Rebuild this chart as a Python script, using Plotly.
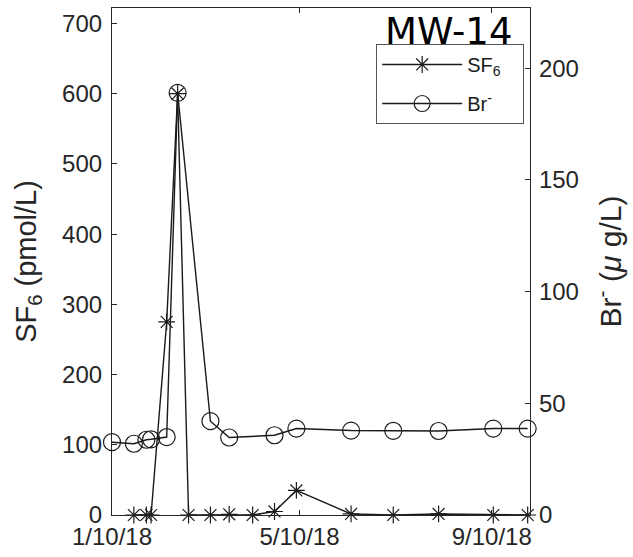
import plotly.graph_objects as go

# SF6 samples (pmol/L), left axis
sf6_dates = ["2018-01-24", "2018-02-01", "2018-02-04", "2018-02-14", "2018-02-21",
             "2018-02-28", "2018-03-14", "2018-03-26", "2018-04-10", "2018-04-24",
             "2018-05-08", "2018-06-12", "2018-07-09", "2018-08-07", "2018-09-11",
             "2018-10-03"]
sf6_values = [0, 0, 0, 275, 600, 0, 0, 1, 0, 5, 35, 1.5, 0, 1.5, 0, 0]

# Bromide samples (ug/L), right axis
br_dates = ["2018-01-10", "2018-01-24", "2018-02-01", "2018-02-04", "2018-02-14",
            "2018-02-21", "2018-03-14", "2018-03-26", "2018-04-24", "2018-05-08",
            "2018-06-12", "2018-07-09", "2018-08-07", "2018-09-11", "2018-10-03"]
br_values = [32.6, 31.9, 33.7, 33.9, 34.9, 189, 42, 34.7, 35.7, 38.7,
             37.8, 37.7, 37.6, 38.7, 38.7]

x_tick_vals = ["2018-01-10", "2018-05-10", "2018-09-10"]
x_tick_text = ["1/10/18", "5/10/18", "9/10/18"]
left_ticks = [0, 100, 200, 300, 400, 500, 600, 700]
right_ticks = [0, 50, 100, 150, 200]

AXIS = "#262626"
INK = "#1a1a1a"
FONT = "Liberation Sans, Arial, sans-serif"
PAD = "\u00a0" * 3

fig = go.Figure()
fig.add_trace(go.Scatter(
    x=sf6_dates, y=sf6_values, name="SF<sub>6</sub>" + PAD, mode="lines+markers",
    legendgroup="sf6",
    line=dict(color=INK, width=1.4),
    marker=dict(symbol="asterisk-open", size=14, color=INK,
                line=dict(color=INK, width=1.2)),
    cliponaxis=False, yaxis="y",
))
fig.add_trace(go.Scatter(
    x=br_dates, y=br_values, name="Br<sup>-</sup>" + PAD, mode="lines+markers",
    legendgroup="br",
    line=dict(color=INK, width=1.4),
    marker=dict(symbol="circle-open", size=17, color=INK,
                line=dict(color=INK, width=1.2)),
    cliponaxis=False, yaxis="y2",
))

fig.update_layout(
    width=633, height=557,
    margin=dict(l=112, r=103, t=7, b=41),
    paper_bgcolor="white", plot_bgcolor="white",
    font=dict(family=FONT, size=24, color=AXIS),
    showlegend=True,
    legend=dict(
        x=0.632, y=0.929, xanchor="left", yanchor="top",
        bgcolor="white", bordercolor="#555555", borderwidth=1,
        font=dict(family=FONT, size=20, color=INK),
        itemwidth=80, tracegroupgap=10,
    ),
    xaxis=dict(
        type="date", range=["2018-01-10", "2018-10-04 12:00"],
        tickvals=x_tick_vals, ticktext=x_tick_text,
        ticks="inside", ticklen=5, tickcolor=AXIS,
        showline=True, linecolor=AXIS, linewidth=1.2, mirror="ticks",
        showgrid=False, zeroline=False,
        tickfont=dict(size=24, color=AXIS),
    ),
    yaxis=dict(
        range=[0, 722], tickvals=left_ticks,
        ticks="inside", ticklen=5, tickcolor=AXIS,
        showline=True, linecolor=AXIS, linewidth=1.2,
        showgrid=False, zeroline=False, ticklabelstandoff=4,
        tickfont=dict(size=24, color=AXIS),
        title=dict(text="SF<sub>6</sub> (pmol/L)", font=dict(size=29, color=AXIS), standoff=16),
    ),
    yaxis2=dict(
        range=[0, 227], tickvals=right_ticks, overlaying="y", side="right",
        ticks="inside", ticklen=5, tickcolor=AXIS,
        showline=True, linecolor=AXIS, linewidth=1.2,
        showgrid=False, zeroline=False, ticklabelstandoff=3,
        tickfont=dict(size=24, color=AXIS),
        title=dict(text="Br<sup>-</sup> (<i>μ</i> g/L)", font=dict(size=30, color=AXIS), standoff=22),
    ),
    annotations=[dict(
        text="MW-14", xref="paper", yref="paper", x=0.804, y=1.0,
        xanchor="center", yanchor="top", showarrow=False,
        font=dict(family="DejaVu Sans", size=37, color="black"),
    )],
)

fig.write_html("out.html")
